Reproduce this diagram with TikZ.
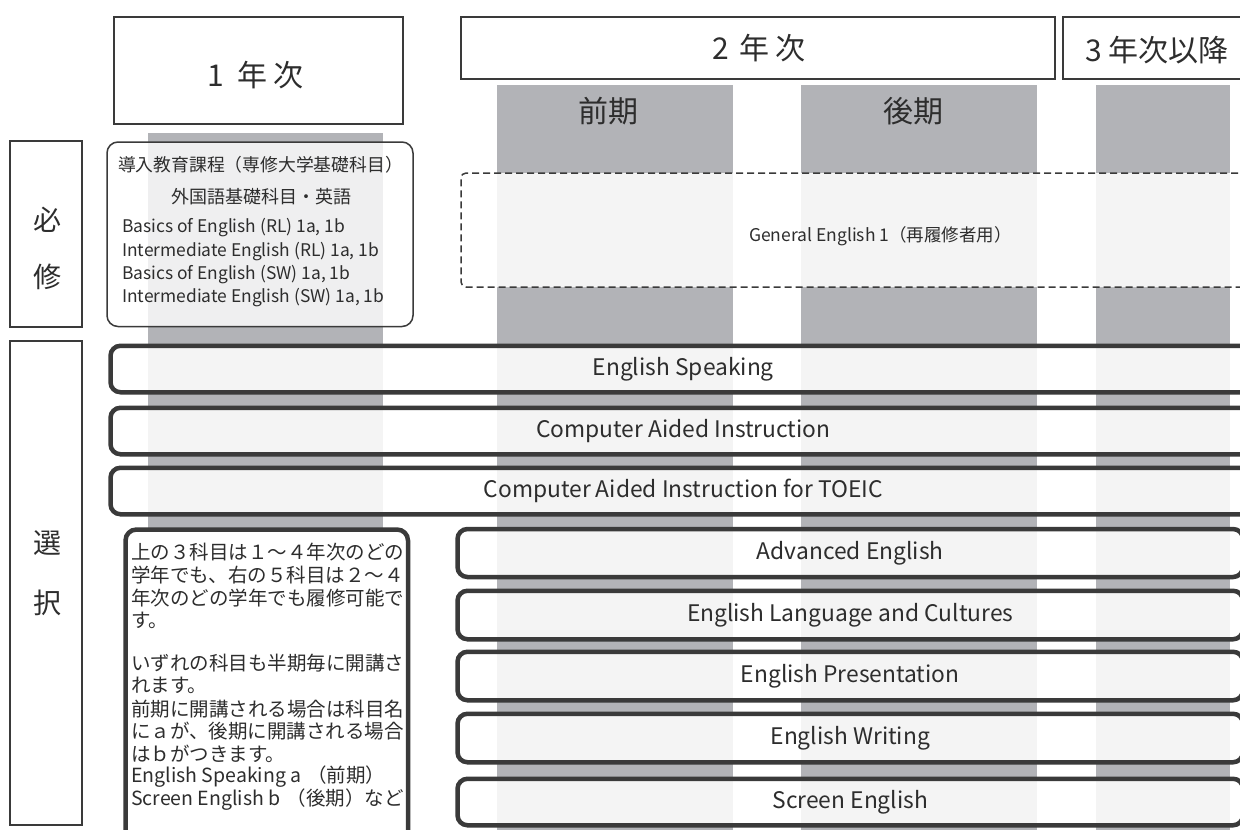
\documentclass[tikz,border=0pt]{standalone}
\usepackage{fontspec}
\setmainfont{Noto Sans CJK JP}
\definecolor{colgray}{RGB}{178,179,183}
\definecolor{ink}{RGB}{45,45,45}
\definecolor{edge}{RGB}{58,58,58}
\tikzset{
  colbar/.style={fill=colgray, draw=none, inner sep=0pt, outer sep=0pt},
  hdrbox/.style={draw=edge, line width=1.8pt, fill=white, inner sep=0pt},
  hdrtext/.style={text=ink, inner sep=0pt, font=\fontsize{30}{36}\selectfont},
  sidebox/.style={draw=edge, line width=1.5pt, fill=white, inner sep=0pt},
  sidechar/.style={text=ink, inner sep=0pt, font=\fontsize{28}{32}\selectfont},
  reqbox/.style={draw=edge, line width=1.5pt, rounded corners=11pt, fill=white, fill opacity=0.8, inner sep=0pt},
  dashbox/.style={draw=edge, line width=1.5pt, dash pattern=on 7pt off 4pt, rounded corners=5pt, fill=white, fill opacity=0.86, inner sep=0pt},
  bar/.style={draw=edge, line width=4.5pt, rounded corners=10pt, fill=white, fill opacity=0.86, text opacity=1, text=ink, inner sep=0pt, font=\fontsize{22.8}{28}\selectfont},
  notebox/.style={draw=edge, line width=4.5pt, rounded corners=11pt, fill=white, inner sep=0pt},
  txt/.style={text=ink, inner sep=0pt},
  reqtxt/.style={txt, anchor=west, font=\fontsize{17.4}{22}\selectfont},
  notetxt/.style={txt, anchor=west, font=\fontsize{19.5}{23}\selectfont},
}
\begin{document}
\begin{tikzpicture}[x=1pt, y=-1pt]
\useasboundingbox (0,0) rectangle (1240,830);
\clip (0,0) rectangle (1240,830);
\fill[white] (0,0) rectangle (1240,830);

% grey period columns
\node[colbar, minimum width=235pt, minimum height=397pt] (c1) at (265.5,331.5) {};
\node[colbar, minimum width=236pt, minimum height=750pt] (c2) at (615,460) {};
\node[colbar, minimum width=236pt, minimum height=750pt] (c3) at (919,460) {};
\node[colbar, minimum width=134pt, minimum height=750pt] (c4) at (1163,460) {};

% year headers
\node[hdrbox, minimum width=289pt, minimum height=107pt] (y1) at (258.5,70.5) {};
\node[hdrbox, minimum width=594pt, minimum height=62pt] (y2) at (758,48) {};
\node[hdrbox, minimum width=199pt, minimum height=62pt] (y3) at (1162.5,48) {};
\node[hdrtext] (y1t) at (255.5,75) {1\hspace{14pt}年\hspace{6pt}次};
\node[hdrtext] (y2t) at (759,48) {2\hspace{11pt}年\hspace{6pt}次};
\node[hdrtext] (y3t) at (1157,50) {3\hspace{7pt}年次以降};
\node[hdrtext] (zenki) at (608,111) {前期};
\node[hdrtext] (kouki) at (913,111) {後期};

% side labels
\node[sidebox, minimum width=72pt, minimum height=186pt] (hissu) at (46,234) {};
\node[sidebox, minimum width=72pt, minimum height=484pt] (sentaku) at (46,583) {};
\node[sidechar] (s1) at (47,220) {必};
\node[sidechar] (s2) at (47,277) {修};
\node[sidechar] (s3) at (47,543) {選};
\node[sidechar] (s4) at (47,603) {択};

% required courses
\node[reqbox, minimum width=306pt, minimum height=184.5pt] (req) at (260,234.25) {};
\node[txt, font=\fontsize{17.8}{22}\selectfont] (r0) at (260.5,165) {導入教育課程（専修大学基礎科目）};
\node[txt, font=\fontsize{18}{22}\selectfont] (r1) at (261,197) {外国語基礎科目・英語};
\node[reqtxt] (r2) at (122,228) {Basics of English (RL) 1a, 1b};
\node[reqtxt] (r3) at (122,252) {Intermediate English (RL) 1a, 1b};
\node[reqtxt] (r4) at (122,275) {Basics of English (SW) 1a, 1b};
\node[reqtxt] (r5) at (122,298) {Intermediate English (SW) 1a, 1b};

% general english (dashed)
\node[dashbox, minimum width=804pt, minimum height=114pt] (ge) at (863,230) {};
\node[txt, font=\fontsize{17.5}{22}\selectfont] (get) at (880.5,236) {General English 1（再履修者用）};

% elective bars (all years)
\node[bar, minimum width=1145.5pt, minimum height=46.5pt] (b1) at (683.25,369) {English Speaking};
\node[bar, minimum width=1145.5pt, minimum height=46.5pt] (b2) at (683.25,431) {Computer Aided Instruction};
\node[bar, minimum width=1145.5pt, minimum height=46.5pt] (b3) at (683.25,491) {Computer Aided Instruction for TOEIC};

% elective bars (years 2-4)
\node[bar, minimum width=785.5pt, minimum height=48pt] (b4) at (850.25,553) {Advanced English};
\node[bar, minimum width=785.5pt, minimum height=48.5pt] (b5) at (850.25,615) {English Language and Cultures};
\node[bar, minimum width=785.5pt, minimum height=48.5pt] (b6) at (850.25,676) {English Presentation};
\node[bar, minimum width=785.5pt, minimum height=48.5pt] (b7) at (850.25,738) {English Writing};
\node[bar, minimum width=785.5pt, minimum height=46.5pt] (b8) at (850.25,802) {Screen English};

% note box
\node[notebox, minimum width=282.5pt, minimum height=320.5pt] (note) at (266.75,689.75) {};
\node[notetxt] (n1) at (131,552) {上の３科目は１～４年次のどの};
\node[notetxt] (n2) at (131,574.8) {学年でも、右の５科目は２～４};
\node[notetxt] (n3) at (131,597.6) {年次のどの学年でも履修可能で};
\node[notetxt] (n4) at (131,620.4) {す。};
\node[notetxt] (n5) at (131,663) {いずれの科目も半期毎に開講さ};
\node[notetxt] (n6) at (131,685.8) {れます。};
\node[notetxt] (n7) at (131,708.6) {前期に開講される場合は科目名};
\node[notetxt] (n8) at (131,731.4) {にａが、後期に開講される場合};
\node[notetxt] (n9) at (131,754.2) {はｂがつきます。};
\node[notetxt] (n10) at (131,777) {English Speaking a\kern6pt（前期）};
\node[notetxt] (n11) at (131,799.8) {Screen English b\kern6pt（後期）など};
\end{tikzpicture}
\end{document}
